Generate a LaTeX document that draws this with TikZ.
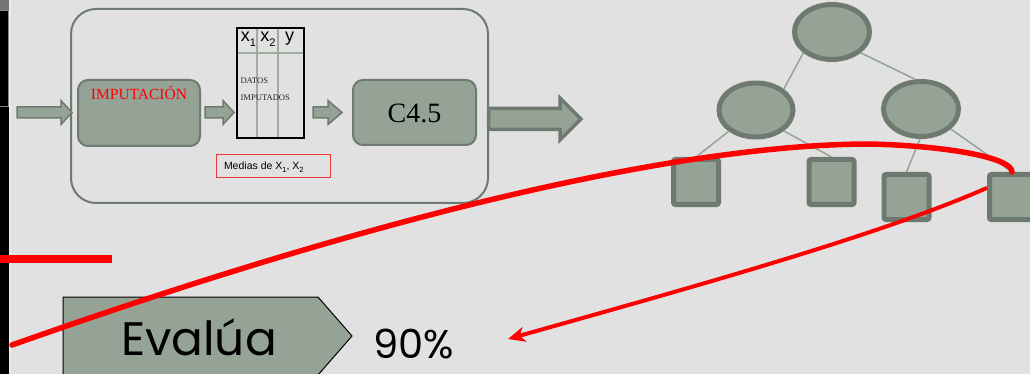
\documentclass[tikz,border=0pt]{standalone}
\usepackage{fontspec}
\setmainfont{Liberation Serif}
\newfontfamily\arialf{Liberation Sans}
\newfontfamily\gothicf{Poppins}
\usetikzlibrary{arrows.meta,shapes.geometric}
\definecolor{bg}{HTML}{E1E1E1}
\definecolor{sage}{HTML}{94A396}
\definecolor{sagedark}{HTML}{6E7A70}
\definecolor{sageline}{HTML}{93A596}
\definecolor{tabline}{HTML}{9DAE9F}
\definecolor{pred}{HTML}{FF0000}
\definecolor{boxred}{HTML}{E83838}
\newcommand\blockarrow[7][]{%
  \draw[blockarr,#1] (#2,#4-#5) -- (#7,#4-#5) -- (#7,#4-#6) -- (#3,#4) -- (#7,#4+#6) -- (#7,#4+#5) -- (#2,#4+#5) -- cycle;}
\newcommand\subsc[1]{\raisebox{-0.3em}{\fontsize{11}{11}\selectfont #1}}
\newcommand\subsm[1]{\raisebox{-0.25em}{\fontsize{7.5}{7.5}\selectfont #1}}
\begin{document}
\begin{tikzpicture}[x=1pt,y=-1pt,
  blockarr/.style={fill=sage, draw=sagedark, line width=1.5pt, line join=miter},
  procbox/.style={draw=sagedark, fill=sage, line width=2pt, rounded corners=10pt, inner sep=0pt},
  treeell/.style={ellipse, draw=sagedark, fill=sage, line width=5pt, minimum width=75pt, minimum height=55pt, inner sep=0pt},
  leaf/.style={rectangle, draw=sagedark, fill=sage, line width=5pt, minimum size=45pt, rounded corners=2pt, inner sep=0pt},
  treeedge/.style={draw=sageline, line width=1.5pt},
  redpath/.style={draw=pred, line width=5.5pt, line cap=round},
  plain/.style={inner sep=0pt, outer sep=0pt}]
\useasboundingbox (0,0) rectangle (1030,374);
\fill[bg] (0,0) rectangle (1030,374);
% left strip
\fill[black] (0,0) rectangle (9,374);
\fill[black!55] (0,0) rectangle (9,10);
\draw[black!45, line width=0.8pt] (0,10.4) -- (8,10.4) -- (8,106) -- (0,106);
\fill[white!92!black] (9,0) rectangle (11,374);
% container
\draw[sagedark, line width=2pt, rounded corners=25pt] (71,9) rectangle (488,203);
% block arrows
\blockarrow{17}{72}{112.5}{5.5}{12}{61}
\blockarrow{205}{234}{112.5}{5.5}{12}{223}
\blockarrow{313}{342}{112.5}{5.5}{12}{328}
\blockarrow[line width=3.5pt]{488.5}{581}{119}{10.5}{21}{560}
% imputation box
\node[procbox, minimum width=122pt, minimum height=66pt] (imp) at (139,113) {};
\node[plain, text=pred] (impt) at (139,93) {\fontsize{15.5}{15.5}\selectfont IMPUTACIÓN};
% table
\node[draw=black, line width=1.2pt, minimum width=67pt, minimum height=110pt, inner sep=0pt] (tbl) at (270.5,83) {};
\draw[tabline, line width=1.5pt] (257,28.6) -- (257,137.4);
\draw[tabline, line width=1.5pt] (278,28.6) -- (278,137.4);
\draw[tabline, line width=1.5pt] (237.6,53) -- (303.4,53);
\node[plain] (hx1) at (248.5,39) {\arialf\fontsize{18}{18}\selectfont x\subsc{1}};
\node[plain] (hx2) at (268,39) {\arialf\fontsize{18}{18}\selectfont x\subsc{2}};
\node[plain] (hy) at (289.5,39) {\arialf\fontsize{18}{18}\selectfont y};
\node[plain, anchor=west, text=black!85] (dat1) at (240.5,81) {\fontsize{8.6}{8.6}\selectfont DATOS};
\node[plain, anchor=west, text=black!85] (dat2) at (240.5,98) {\fontsize{8.6}{8.6}\selectfont IMPUTADOS};
% medias box
\node[draw=boxred, line width=1pt, minimum width=114pt, minimum height=23pt, inner sep=0pt] (med) at (273,166.5) {};
\node[plain, anchor=west] (medt) at (224,167) {\arialf\fontsize{10.5}{10.5}\selectfont Medias de X\subsm{1}, X\subsm{2}};
% C4.5
\node[procbox, minimum width=123pt, minimum height=65pt] (c45) at (414.5,112.5) {};
\node[plain] (c45t) at (414.5,113) {\fontsize{28}{28}\selectfont C4.5};
% tree
\node[treeell] (root) at (832,32) {};
\node[treeell, minimum width=74pt, minimum height=54pt] (left) at (756,110) {};
\node[treeell] (right) at (921,109) {};
\node[leaf] (L1) at (696,182) {};
\node[leaf] (L2) at (831.5,182) {};
\node[leaf] (L3) at (906.5,197) {};
\node[leaf] (L4) at (1012,197) {};
\draw[treeedge] (root.216) -- (left.37);
\draw[treeedge] (root.-36) -- (right.101);
\draw[treeedge] (left.218) -- (L1.north);
\draw[treeedge] (left.-37) -- (L2.north);
\draw[treeedge] (right.-92) -- (L3.north);
\draw[treeedge] (right.-34) -- (L4.north);
% evalua
\fill[sage] (63,297) -- (318,297) -- (352,336) -- (318,375) -- (63,375) -- cycle;
\draw[black, line width=1pt] (63,376) -- (63,297) -- (318,297) -- (352,336) -- (318,375);
\node[plain, anchor=base] (ev) at (199,355) {\gothicf\fontsize{47}{47}\selectfont Evalúa};
\node[plain, anchor=base west] (pct) at (373,358) {\gothicf\fontsize{40}{40}\selectfont 90\%};
% red marks
\draw[pred, line width=7.5pt] (0,259) -- (112,259);
\coordinate (r1s) at (12,345);
\coordinate (tip) at (508,339);
\draw[redpath] (r1s) .. controls (450,190) and (720,144) .. (870,144) .. controls (950,146) and (1012,158) .. (L4.north);
\draw[redpath, line width=4pt, line cap=butt, -{Stealth[length=17pt,width=15pt,inset=5pt]}] (L4.160) .. controls (880,235) and (700,285) .. (tip);
\end{tikzpicture}
\end{document}
